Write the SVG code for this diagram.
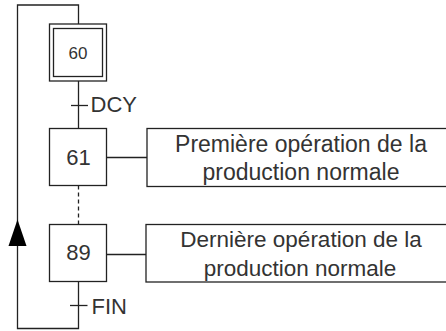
<svg xmlns="http://www.w3.org/2000/svg" width="446" height="331" viewBox="0 0 446 331">
<style>
.ln{fill:none;stroke:#222;stroke-width:1.3}
.bx{fill:#fff;stroke:#222;stroke-width:1.3}
.t{font-family:"Liberation Sans",Arial,sans-serif;fill:#333}
</style>
<rect width="446" height="331" fill="#fff"/>
<g id="connectors">
<polyline class="ln" points="78.5,24 78.5,5 17.5,5 17.5,328.5 78.5,328.5 78.5,281.5"/>
<line class="ln" x1="78.5" y1="81" x2="78.5" y2="128.5"/>
<line class="ln" x1="71" y1="105.5" x2="88" y2="105.5"/>
<line class="ln" x1="78.5" y1="185.5" x2="78.5" y2="224.5" stroke-dasharray="4,3"/>
<line class="ln" x1="70" y1="305.5" x2="87.5" y2="305.5"/>
<line class="ln" x1="106.5" y1="157.5" x2="147" y2="157.5"/>
<line class="ln" x1="106.5" y1="254.5" x2="146" y2="254.5"/>
<polygon points="17.5,219.5 8.5,246 26.5,246" fill="#000"/>
<text class="t" x="90.5" y="112" font-size="22">DCY</text>
<text class="t" x="91.5" y="313.5" font-size="22">FIN</text>
</g>
<g id="step60">
<rect class="bx" x="49.5" y="24" width="57" height="57"/>
<rect class="bx" x="53.5" y="28.5" width="49" height="48"/>
<text class="t" x="78" y="58.5" font-size="17" text-anchor="middle">60</text>
</g>
<g id="step61">
<rect class="bx" x="49.5" y="128.5" width="57" height="57"/>
<text class="t" x="78.5" y="165" font-size="22" text-anchor="middle">61</text>
</g>
<g id="action61">
<rect class="bx" x="147" y="128.5" width="305" height="58"/>
<text class="t" x="301" y="151.5" font-size="23" text-anchor="middle">Première opération de la</text>
<text class="t" x="301" y="180" font-size="23" text-anchor="middle">production normale</text>
</g>
<g id="step89">
<rect class="bx" x="49.5" y="224.5" width="57" height="57"/>
<text class="t" x="78.5" y="259.5" font-size="22" text-anchor="middle">89</text>
</g>
<g id="action89">
<rect class="bx" x="146" y="224.5" width="306" height="57.5"/>
<text class="t" x="301" y="247" font-size="22.5" text-anchor="middle">Dernière opération de la</text>
<text class="t" x="300" y="275.5" font-size="22.5" text-anchor="middle">production normale</text>
</g>
</svg>
